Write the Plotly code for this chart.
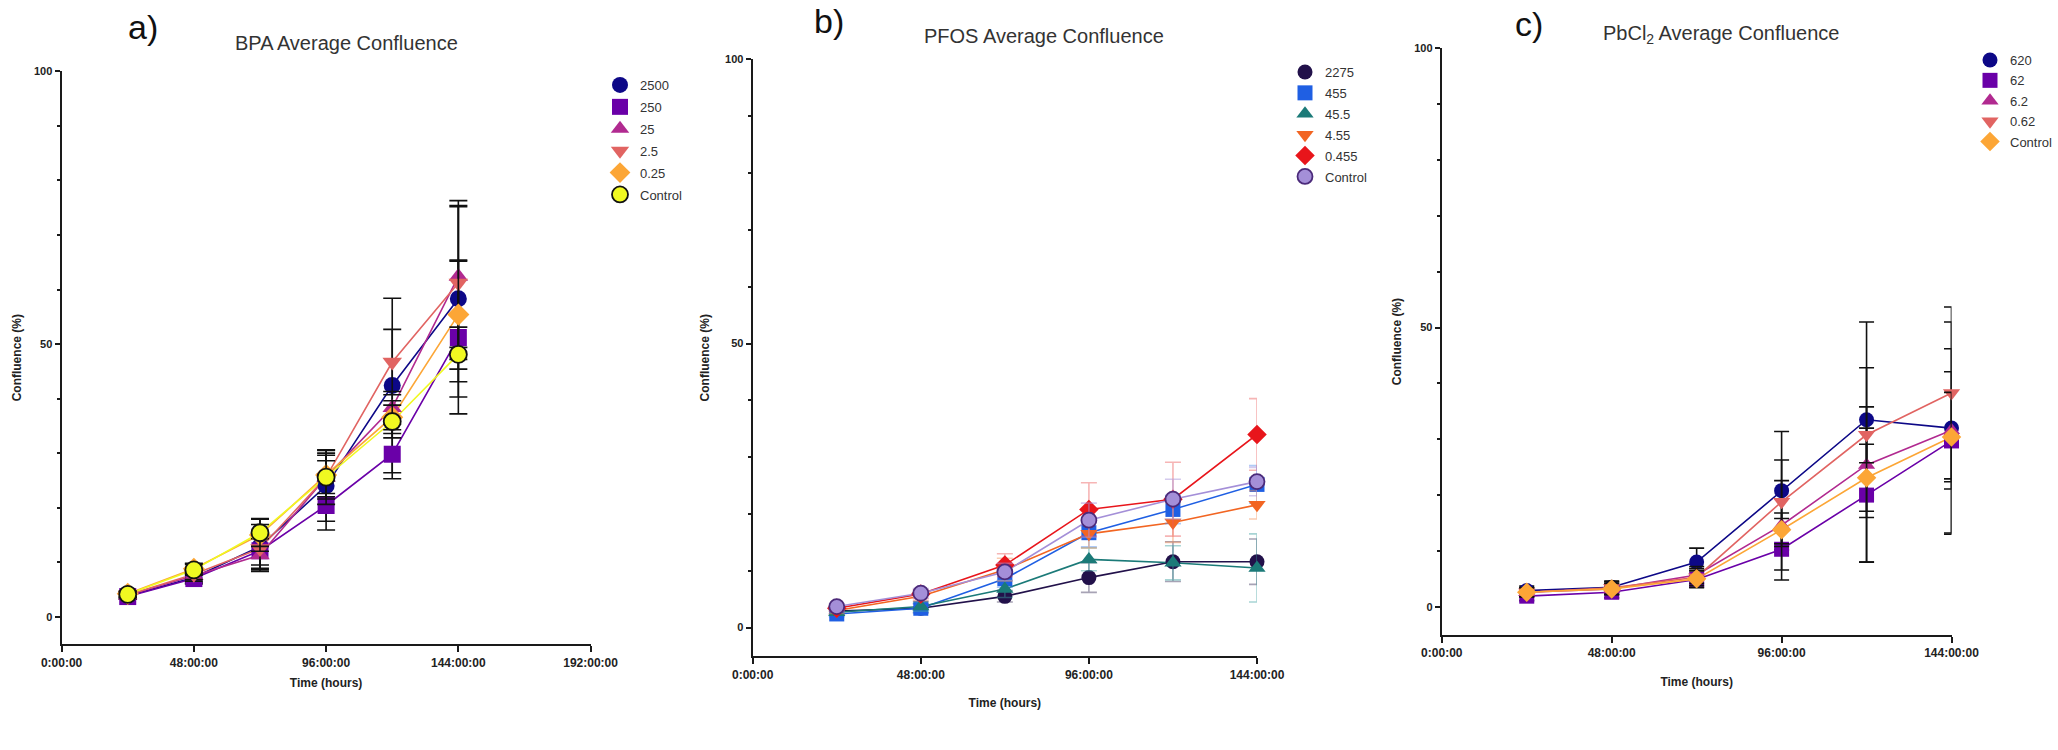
import plotly.graph_objects as go

W, H = 2058, 750

time_h = [24, 48, 72, 96, 120, 144]

# ---- a) BPA ----
bpa_names = ["2500", "250", "25", "2.5", "0.25", "Control"]
bpa_means = [
    [3.8, 7.2, 12.9, 24.0, 42.4, 58.3],
    [3.7, 7.0, 12.1, 20.4, 29.8, 51.2],
    [4.0, 7.5, 11.3, 25.6, 38.3, 62.4],
    [4.0, 7.8, 12.5, 25.6, 46.7, 61.2],
    [4.2, 8.8, 15.0, 26.0, 36.6, 55.4],
    [4.1, 8.6, 15.4, 25.6, 35.8, 48.1],
]
bpa_errs = [
    [0.6, 1.0, 4.0, 6.5, 16.0, 18.0],
    [0.5, 1.0, 3.5, 4.5, 4.5, 14.0],
    [0.5, 1.0, 3.0, 5.0, 3.0, 13.0],
    [0.5, 1.0, 3.0, 4.0, 6.0, 14.0],
    [0.5, 1.0, 3.0, 4.0, 3.0, 10.0],
    [0.5, 1.0, 2.5, 3.0, 3.0, 5.0],
]
bpa_colors = ["#0d0887", "#6a00a8", "#b12a90", "#e16462", "#fca636", "#f0f921"]
bpa_symbols = ["circle", "square", "triangle-up", "triangle-down", "diamond", "circle"]

# ---- b) PFOS ----
pfos_names = ["2275", "455", "45.5", "4.55", "0.455", "Control"]
pfos_means = [
    [2.9, 3.4, 5.5, 8.8, 11.6, 11.6],
    [2.4, 3.4, 8.6, 16.7, 20.8, 25.2],
    [2.7, 3.7, 6.8, 12.0, 11.4, 10.5],
    [3.0, 5.5, 10.2, 16.5, 18.5, 21.6],
    [3.4, 5.9, 11.0, 20.8, 22.6, 34.0],
    [3.7, 6.05, 9.8, 18.9, 22.6, 25.7],
]
pfos_errs = [
    [0.5, 0.8, 1.0, 2.6, 3.5, 4.0],
    [0.5, 0.8, 1.5, 2.5, 2.5, 3.3],
    [0.5, 0.8, 1.5, 2.0, 3.0, 6.0],
    [0.5, 0.8, 2.0, 2.5, 3.5, 2.5],
    [0.5, 0.8, 2.0, 4.7, 6.5, 6.3],
    [0.5, 0.8, 1.5, 3.0, 3.5, 2.5],
]
pfos_colors = ["#22114a", "#1f5fe3", "#1b7a78", "#f26522", "#e8151b", "#a48fd8"]
pfos_err_colors = ["rgba(60,50,90,0.45)", "rgba(80,140,235,0.45)", "rgba(60,160,160,0.45)",
                   "rgba(245,140,80,0.45)", "rgba(235,90,90,0.45)", "rgba(170,150,220,0.5)"]
pfos_symbols = ["circle", "square", "triangle-up", "triangle-down", "diamond", "circle"]

# ---- c) PbCl2 ----
pb_names = ["620", "62", "6.2", "0.62", "Control"]
pb_means = [
    [2.9, 3.5, 8.0, 20.8, 33.5, 32.0],
    [1.9, 2.6, 4.9, 10.3, 20.0, 29.7],
    [2.6, 3.2, 5.7, 14.6, 25.4, 31.6],
    [2.6, 3.4, 5.3, 18.8, 30.8, 38.3],
    [2.6, 3.2, 5.0, 13.8, 23.1, 30.4],
]
pb_errs = [
    [0.8, 1.0, 2.5, 10.6, 17.5, 19.0],
    [0.8, 1.0, 1.5, 5.5, 12.0, 16.5],
    [0.8, 1.0, 1.5, 8.0, 17.4, 10.5],
    [0.8, 1.2, 1.5, 7.5, 5.0, 15.4],
    [0.8, 1.0, 1.5, 3.0, 6.0, 8.0],
]
pb_colors = ["#0d0887", "#6a00a8", "#b12a90", "#e16462", "#fca636"]
pb_symbols = ["circle", "square", "triangle-up", "triangle-down", "diamond"]

tick_vals_a = [0, 48, 96, 144, 192]
tick_text_a = ["0:00:00", "48:00:00", "96:00:00", "144:00:00", "192:00:00"]
tick_vals_bc = [0, 48, 96, 144]
tick_text_bc = ["0:00:00", "48:00:00", "96:00:00", "144:00:00"]

FONT = "Liberation Sans, Arial, sans-serif"

fig = go.Figure()


def px_x(p):
    return p / W


def px_y(p):
    return 1 - p / H


panels = [
    dict(names=bpa_names, means=bpa_means, errs=bpa_errs, colors=bpa_colors,
         symbols=bpa_symbols, errc=["#111"] * 6, size=17, capw=9,
         outline=[None, None, None, None, None, "#111"], ax="", legend="legend"),
    dict(names=pfos_names, means=pfos_means, errs=pfos_errs, colors=pfos_colors,
         symbols=pfos_symbols, errc=pfos_err_colors, size=15, capw=8,
         outline=[None, None, None, None, None, "#4b2a7a"], ax="2", legend="legend2"),
    dict(names=pb_names, means=pb_means, errs=pb_errs, colors=pb_colors,
         symbols=pb_symbols, errc=["#111"] * 5, size=15, capw=7.5,
         outline=[None] * 5, ax="3", legend="legend3"),
]

for p in panels:
    xa = "x" + p["ax"]
    ya = "y" + p["ax"]
    n = len(p["names"])
    for i in range(n):
        fig.add_trace(go.Scatter(
            x=time_h, y=p["means"][i], mode="lines", xaxis=xa, yaxis=ya,
            line=dict(color=p["colors"][i], width=1.6), showlegend=False,
            legendgroup=p["ax"] + p["names"][i], legend=p["legend"], hoverinfo="skip",
            cliponaxis=False))
    for i in range(n):
        ol = p["outline"][i]
        fig.add_trace(go.Scatter(
            x=time_h, y=p["means"][i], mode="markers", xaxis=xa, yaxis=ya,
            name=p["names"][i], legendgroup=p["ax"] + p["names"][i], legend=p["legend"],
            marker=dict(color=p["colors"][i], symbol=p["symbols"][i], size=p["size"],
                        line=dict(color=ol if ol else p["colors"][i], width=1.8 if ol else 0)),
            error_y=dict(type="data", array=p["errs"][i], visible=True,
                         color=p["errc"][i], thickness=1.6, width=p["capw"]),
            cliponaxis=False))

geo = [
    dict(x0=61.6, x1=590.6, ytop=71.4, ybot=644, xr=[0, 192], tv=tick_vals_a, tt=tick_text_a,
         xst=10, yst=10),
    dict(x0=752.7, x1=1257, ytop=59.4, ybot=656, xr=[0, 144], tv=tick_vals_bc, tt=tick_text_bc,
         xst=18, yst=13),
    dict(x0=1441.8, x1=1951.5, ytop=48.4, ybot=634.7, xr=[0, 144], tv=tick_vals_bc, tt=tick_text_bc,
         xst=18, yst=10),
]

layout = {}
for k, g in enumerate(geo):
    s = "" if k == 0 else str(k + 1)
    layout["xaxis" + s] = dict(
        domain=[px_x(g["x0"]), px_x(g["x1"])], anchor="y" + s, range=g["xr"],
        tickmode="array", tickvals=g["tv"], ticktext=g["tt"], automargin=False,
        showgrid=False, zeroline=False, showline=True, linecolor="#1a1a1a", linewidth=2.2,
        ticks="outside", ticklen=6, tickwidth=2, tickcolor="#1a1a1a",
        tickfont=dict(family=FONT, size=12, color="#222", weight="bold"),
        title=dict(text="<b>Time (hours)</b>", font=dict(family=FONT, size=12, color="#222"),
                   standoff=g["xst"]),
        fixedrange=True)
    layout["yaxis" + s] = dict(
        domain=[px_y(g["ybot"]), px_y(g["ytop"])], anchor="x" + s, range=[-5, 100],
        tickmode="array", tickvals=[0, 50, 100], automargin=False,
        minor=dict(tickmode="array", tickvals=[10, 20, 30, 40, 60, 70, 80, 90],
                   ticks="outside", ticklen=3, tickwidth=1.5, tickcolor="#1a1a1a"),
        showgrid=False, zeroline=False, showline=True, linecolor="#1a1a1a", linewidth=2.2,
        ticks="outside", ticklen=5, tickwidth=2, tickcolor="#1a1a1a",
        tickfont=dict(family=FONT, size=11, color="#222", weight="bold"),
        title=dict(text="<b>Confluence (%)</b>", font=dict(family=FONT, size=12, color="#222"),
                   standoff=g["yst"]),
        fixedrange=True)

legend_specs = [
    dict(x=px_x(600), y=px_y(70), xanchor="left", gap=2),
    dict(x=px_x(1285), y=px_y(57), xanchor="left", gap=1),
    dict(x=1.0, y=px_y(45), xanchor="right", gap=0.5),
]
for k, spec in enumerate(legend_specs):
    s = "" if k == 0 else str(k + 1)
    layout["legend" + s] = dict(
        x=spec["x"], y=spec["y"], xanchor=spec["xanchor"], yanchor="top",
        font=dict(family=FONT, size=13, color="#333"), bgcolor="rgba(0,0,0,0)",
        itemsizing="trace", traceorder="grouped", tracegroupgap=spec["gap"])

annotations = [
    dict(text="a)", x=px_x(143), y=px_y(27), font=dict(family=FONT, size=34, color="#111")),
    dict(text="BPA Average Confluence", x=px_x(346), y=px_y(43), font=dict(family=FONT, size=20, color="#333")),
    dict(text="b)", x=px_x(829), y=px_y(21), font=dict(family=FONT, size=34, color="#111")),
    dict(text="PFOS Average Confluence", x=px_x(1044), y=px_y(36), font=dict(family=FONT, size=20, color="#333")),
    dict(text="c)", x=px_x(1529), y=px_y(24), font=dict(family=FONT, size=34, color="#111")),
    dict(text="PbCl<sub>2</sub> Average Confluence", x=px_x(1721), y=px_y(35), font=dict(family=FONT, size=20, color="#333")),
]
for a in annotations:
    a.update(xref="paper", yref="paper", showarrow=False, xanchor="center", yanchor="middle")

fig.update_layout(
    width=W, height=H, margin=dict(l=0, r=0, t=0, b=0, autoexpand=False),
    paper_bgcolor="white", plot_bgcolor="white",
    annotations=annotations, **layout)

fig.write_html("out.html", config={"displayModeBar": False},
               post_script="document.body.style.margin='0';")
